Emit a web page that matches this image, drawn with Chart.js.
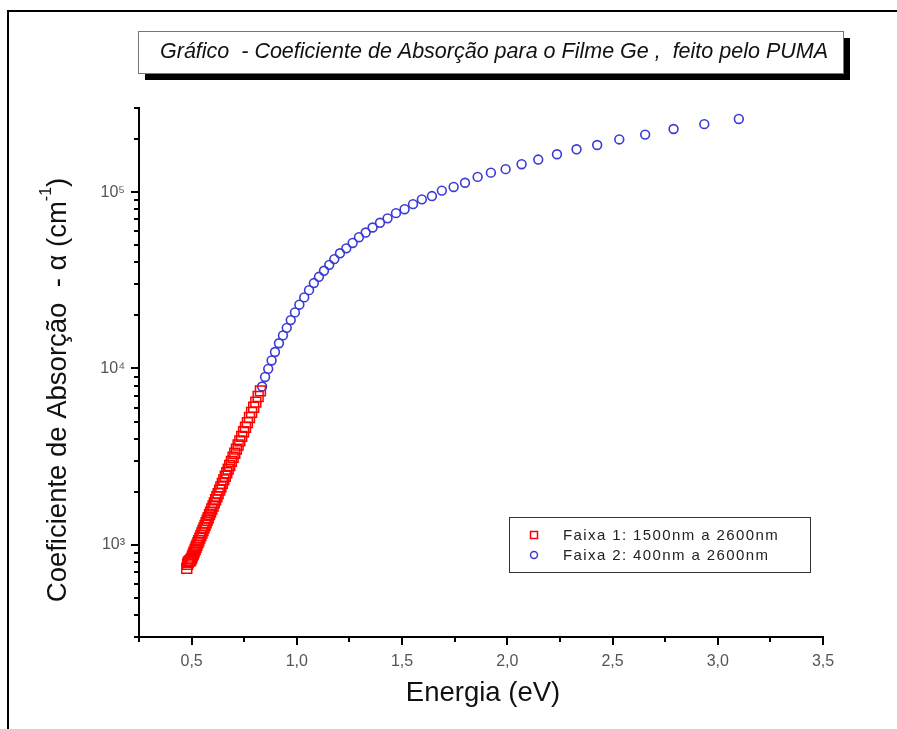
<!DOCTYPE html>
<html>
<head>
<meta charset="utf-8">
<title>Coeficiente de Absorção - Filme Ge</title>
<script src="https://cdn.jsdelivr.net/npm/chart.js@4.4.1/dist/chart.umd.min.js"></script>
<style>
    body { margin: 0; background: #fff; }
    #wrap { width: 897px; height: 729px; }
</style>
</head>
<body>
<div id="wrap"><canvas id="absChart" width="897" height="729"></canvas></div>
<script>
// Faixa 1 (red squares) - energia (eV) e alfa (cm^-1)
const faixa1Energia = [0.477, 0.481, 0.484, 0.488, 0.492, 0.496, 0.500, 0.504, 0.508, 0.512,
    0.517, 0.521, 0.525, 0.530, 0.534, 0.539, 0.544, 0.549, 0.554, 0.559,
    0.564, 0.569, 0.574, 0.579, 0.585, 0.590, 0.596, 0.602, 0.608, 0.614,
    0.620, 0.626, 0.633, 0.639, 0.646, 0.653, 0.660, 0.667, 0.674, 0.681,
    0.689, 0.697, 0.705, 0.713, 0.721, 0.729, 0.738, 0.747, 0.756, 0.765,
    0.775, 0.785, 0.795, 0.805, 0.816, 0.827];
const faixa1Alfa = [736, 775, 795, 805, 812, 820, 838, 863, 887, 911,
    941, 968, 994, 1027, 1055, 1091, 1128, 1167, 1206, 1247,
    1289, 1333, 1378, 1425, 1483, 1533, 1596, 1661, 1729, 1800,
    1874, 1950, 2043, 2127, 2229, 2335, 2447, 2564, 2687, 2815,
    2971, 3134, 3307, 3489, 3681, 3883, 4122, 4376, 4645, 4931,
    5272, 5636, 6026, 6442, 6934, 7461];

// Faixa 2 (blue circles)
const faixa2Energia = [3.100, 2.936, 2.790, 2.655, 2.532, 2.427, 2.329, 2.236, 2.147, 2.068,
    1.992, 1.922, 1.859, 1.799, 1.745, 1.689, 1.642, 1.594, 1.552, 1.512,
    1.471, 1.431, 1.395, 1.360, 1.327, 1.295, 1.265, 1.235, 1.205, 1.178,
    1.154, 1.129, 1.105, 1.081, 1.058, 1.035, 1.012, 0.991, 0.971, 0.952,
    0.934, 0.915, 0.896, 0.880, 0.864, 0.849, 0.835];
const faixa2Alfa = [260000, 243000, 228000, 212000, 199000, 185000, 175000, 164000, 153000, 144000,
    135000, 129000, 122000, 113000, 107000, 102000, 95000, 91000, 85500, 80000,
    76000, 71000, 67000, 63000, 59000, 55500, 51500, 48000, 45000, 41700,
    38700, 35800, 33100, 30500, 27800, 25300, 23000, 20800, 18800, 17000,
    15400, 13900, 12400, 11100, 9950, 8950, 7900];

const legendLabels = ['Faixa 1: 1500nm a 2600nm', 'Faixa 2: 400nm a 2600nm'];
const chartTitle = 'Gráfico  - Coeficiente de Absorção para o Filme Ge ,  feito pelo PUMA';
const xTitle = 'Energia (eV)';

const xTicks = [0.5, 1.0, 1.5, 2.0, 2.5, 3.0, 3.5];
const xMinorTicks = [0.25, 0.75, 1.25, 1.75, 2.25, 2.75, 3.25];
const yTicks = [1000, 10000, 100000];
const yTickLabels = ['10³', '10⁴', '10⁵'];
const yMinorTicks = [300, 400, 500, 600, 700, 800, 900,
    2000, 3000, 4000, 5000, 6000, 7000, 8000, 9000,
    20000, 30000, 40000, 50000, 60000, 70000, 80000, 90000,
    200000, 300000];

const FONT = "'Liberation Sans', Arial, sans-serif";

function toPoints(xs, ys) {
    return xs.map((x, i) => ({ x: x, y: ys[i] }));
}

// frame, title box, axis titles, minor ticks and legend
const decorPlugin = {
    id: 'decor',
    beforeDraw(chart) {
        const ctx = chart.ctx;
        ctx.save();
        ctx.fillStyle = '#fff';
        ctx.fillRect(0, 0, chart.width, chart.height);
        ctx.restore();
    },
    afterDraw(chart) {
        const ctx = chart.ctx;
        const xs = chart.scales.x;
        const ys = chart.scales.y;
        const area = chart.chartArea;

        ctx.save();

        // outer frame
        ctx.strokeStyle = '#000';
        ctx.lineWidth = 2;
        ctx.strokeRect(8, 11, chart.width, chart.height);

        // minor ticks
        ctx.lineWidth = 2;
        ctx.beginPath();
        xMinorTicks.forEach(v => {
            const px = Math.round(xs.getPixelForValue(v));
            ctx.moveTo(px, area.bottom);
            ctx.lineTo(px, area.bottom + 5);
        });
        yMinorTicks.forEach(v => {
            const py = Math.round(ys.getPixelForValue(v));
            ctx.moveTo(area.left - 5, py);
            ctx.lineTo(area.left, py);
        });
        ctx.stroke();

        // title box with shadow
        ctx.fillStyle = '#000';
        ctx.fillRect(145, 38, 705, 42);
        ctx.fillStyle = '#fff';
        ctx.fillRect(138, 31, 705, 42);
        ctx.strokeStyle = '#777';
        ctx.lineWidth = 1;
        ctx.strokeRect(138.5, 31.5, 705, 42);
        ctx.fillStyle = '#111';
        ctx.font = 'italic 21.5px ' + FONT;
        ctx.textAlign = 'center';
        ctx.textBaseline = 'middle';
        ctx.fillText(chartTitle, 494, 52);

        // x axis title
        ctx.fillStyle = '#111';
        ctx.font = '27.5px ' + FONT;
        ctx.fillText(xTitle, 483, 693);

        // y axis title (rotated, with superscript)
        const mainTxt = 'Coeficiente de Absorção  - α (cm';
        const supTxt = '-1';
        const endTxt = ')';
        ctx.translate(58, 390);
        ctx.rotate(-Math.PI / 2);
        ctx.textAlign = 'left';
        ctx.font = '27.5px ' + FONT;
        const w1 = ctx.measureText(mainTxt).width;
        const w3 = ctx.measureText(endTxt).width;
        ctx.font = '16px ' + FONT;
        const w2 = ctx.measureText(supTxt).width;
        let x0 = -(w1 + w2 + w3) / 2;
        ctx.font = '27.5px ' + FONT;
        ctx.fillText(mainTxt, x0, 0);
        ctx.font = '16px ' + FONT;
        ctx.fillText(supTxt, x0 + w1, -11);
        ctx.font = '27.5px ' + FONT;
        ctx.fillText(endTxt, x0 + w1 + w2, 0);
        ctx.setTransform(1, 0, 0, 1, 0, 0);

        // legend
        ctx.strokeStyle = '#333';
        ctx.lineWidth = 1;
        ctx.strokeRect(509.5, 517.5, 301, 55);
        ctx.font = '15px ' + FONT;
        ctx.letterSpacing = '1.4px';
        ctx.textAlign = 'left';
        ctx.textBaseline = 'middle';
        ctx.fillStyle = '#222';
        const rows = [535, 555];
        chart.data.datasets.forEach((ds, i) => {
            const cy = rows[i];
            ctx.strokeStyle = ds.borderColor;
            ctx.lineWidth = 1.5;
            if (ds.pointStyle === 'rect') {
                ctx.strokeRect(530.5, cy - 3.5, 7, 7);
            } else {
                ctx.beginPath();
                ctx.arc(534, cy, 3.5, 0, Math.PI * 2);
                ctx.stroke();
            }
            ctx.fillText(ds.label, 563, cy + 1);
        });
        ctx.restore();
    }
};

const ctx = document.getElementById('absChart').getContext('2d');

new Chart(ctx, {
    type: 'scatter',
    data: {
        datasets: [
            {
                label: legendLabels[0],
                data: toPoints(faixa1Energia, faixa1Alfa),
                pointStyle: 'rect',
                pointRadius: 7,
                borderWidth: 1.5,
                borderColor: '#ff0000',
                backgroundColor: 'rgba(0,0,0,0)'
            },
            {
                label: legendLabels[1],
                data: toPoints(faixa2Energia, faixa2Alfa),
                pointStyle: 'circle',
                pointRadius: 4.4,
                borderWidth: 1.6,
                borderColor: '#3a3ad4',
                backgroundColor: 'rgba(0,0,0,0)'
            }
        ]
    },
    options: {
        responsive: false,
        animation: false,
        events: [],
        layout: { padding: { left: 0, top: 108, right: 74, bottom: 0 } },
        plugins: {
            legend: { display: false },
            tooltip: { enabled: false },
            title: { display: false }
        },
        scales: {
            x: {
                type: 'linear',
                min: 0.25,
                max: 3.5,
                afterBuildTicks: s => { s.ticks = xTicks.map(v => ({ value: v })); },
                afterFit: s => { s.height = 92; },
                border: { color: '#000', width: 2 },
                grid: { drawOnChartArea: false, color: '#000', lineWidth: 2, tickLength: 8 },
                ticks: {
                    color: '#555',
                    font: { family: FONT, size: 16 },
                    padding: 7,
                    maxRotation: 0,
                    autoSkip: false,
                    callback: v => Number(v).toFixed(1).replace('.', ',')
                }
            },
            y: {
                type: 'logarithmic',
                min: 300,
                max: 300000,
                afterBuildTicks: s => { s.ticks = yTicks.map(v => ({ value: v })); },
                afterFit: s => { s.width = 139; },
                border: { color: '#000', width: 2 },
                grid: { drawOnChartArea: false, color: '#000', lineWidth: 2, tickLength: 8 },
                ticks: {
                    color: '#555',
                    font: { family: FONT, size: 16 },
                    padding: 6,
                    autoSkip: false,
                    callback: (v, i) => yTickLabels[i]
                }
            }
        }
    },
    plugins: [decorPlugin]
});
</script>
</body>
</html>
